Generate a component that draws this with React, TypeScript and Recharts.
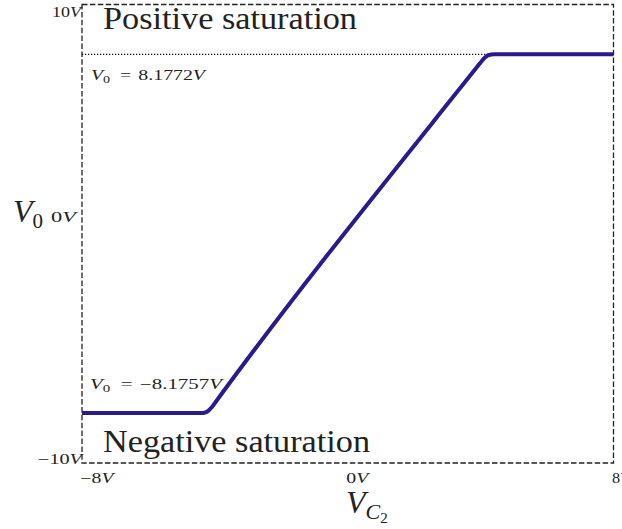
import { LineChart, Line, XAxis, YAxis, ReferenceArea, ReferenceLine } from 'recharts';

// transfer curve V0 vs VC2 (volts)
const VC2 = [-8, -4.4, -4.3, -4.2, -4.1, -3.95, 3.95, 4.05, 4.15, 4.25, 4.4, 8];
const V0 = [-8.1757, -8.1757, -8.15, -8.07, -7.92, -7.61, 7.71, 7.9, 8.06, 8.15, 8.1772, 8.1772];

const X_TICKS = [-8, 0, 8];
const X_TICK_LABELS = ['−8', '0', '8'];
const Y_TICKS = [10, 0, -10];
const Y_TICK_LABELS = ['10', '0', '−10'];

const V_POS_SAT = 8.1772;
const V_NEG_SAT = -8.1757;
const Y_LIMIT = 10.45;

const data = VC2.map((vc, i) => ({ vc2: vc, v0: V0[i] }));

const FONT = '"Liberation Serif", "DejaVu Serif", serif';
const INK = '#222';

// the math-style labels run wide, so each one gets a fixed rendered width
const X_TICK_WIDTH: Record<number, number> = { [-8]: 33, 0: 22, 8: 18 };

function XTick({ x, payload }: any) {
  const label = X_TICK_LABELS[X_TICKS.indexOf(payload.value)];
  return (
    <text
      x={x - 1.5}
      y={483}
      fontFamily={FONT}
      fontSize={14}
      fill={INK}
      textLength={X_TICK_WIDTH[payload.value]}
      lengthAdjust="spacingAndGlyphs"
    >
      {label}
      <tspan fontStyle="italic">V</tspan>
    </text>
  );
}

// per-tick nudges for the y labels
const Y_TICK_POS: Record<number, { right: number; dy: number; w: number }> = {
  10: { right: 81, dy: 2.5, w: 29 },
  0: { right: 76, dy: -12, w: 25 },
  [-10]: { right: 82, dy: 10.5, w: 44 },
};

function YTick({ y, payload }: any) {
  const label = Y_TICK_LABELS[Y_TICKS.indexOf(payload.value)];
  const p = Y_TICK_POS[payload.value];
  return (
    <text
      x={p.right - p.w}
      y={y + p.dy}
      fontFamily={FONT}
      fontSize={14}
      fill={INK}
      textLength={p.w}
      lengthAdjust="spacingAndGlyphs"
    >
      {label}
      <tspan fontStyle="italic">V</tspan>
    </text>
  );
}

function SatLabel({ x, y, value, width }: { x: number; y: number; value: string; width: number }) {
  return (
    <text x={x} y={y} fontFamily={FONT} fontSize={14} fill={INK} textLength={width} lengthAdjust="spacingAndGlyphs">
      <tspan fontStyle="italic">V</tspan>
      <tspan fontSize={10} dy={3}>0</tspan>
      <tspan dy={-3} dx={7}>=</tspan>
      <tspan dx={5}>{value}</tspan>
      <tspan fontStyle="italic">V</tspan>
    </text>
  );
}

export default function App() {
  return (
    <div style={{ position: 'absolute', left: 0, top: 0, width: 622, height: 529, background: '#fff' }}>
      <LineChart width={622} height={529} data={data} margin={{ top: 4.5, right: 8.5, left: 0, bottom: 0 }}>
        <XAxis
          dataKey="vc2"
          type="number"
          domain={[-8, 8]}
          ticks={X_TICKS}
          axisLine={false}
          tickLine={false}
          height={66}
          tick={<XTick />}
        />
        <YAxis
          type="number"
          domain={[-Y_LIMIT, Y_LIMIT]}
          ticks={Y_TICKS}
          axisLine={false}
          tickLine={false}
          width={82}
          tick={<YTick />}
        />
        <ReferenceArea
          x1={-8}
          x2={8}
          y1={-Y_LIMIT}
          y2={Y_LIMIT}
          fill="none"
          stroke={INK}
          strokeWidth={1.3}
          strokeDasharray="5.5 2.4"
        />
        <ReferenceLine
          segment={[{ x: -8, y: V_POS_SAT }, { x: 4.3, y: V_POS_SAT }]}
          stroke="#111"
          strokeWidth={1.3}
          strokeDasharray="1.3 1.7"
        />
        <Line
          dataKey="v0"
          type="monotone"
          stroke="#2a1b8c"
          strokeWidth={4}
          dot={false}
          isAnimationActive={false}
        />
        <text x={103} y={29} fontFamily={FONT} fontSize={32} fill={INK} textLength={254} lengthAdjust="spacingAndGlyphs">
          Positive saturation
        </text>
        <text x={103} y={452} fontFamily={FONT} fontSize={32} fill={INK} textLength={267} lengthAdjust="spacingAndGlyphs">
          Negative saturation
        </text>
        <SatLabel x={91} y={80} value={String(V_POS_SAT)} width={114} />
        <SatLabel x={90} y={389} value={'−' + String(-V_NEG_SAT)} width={132} />
        <text x={13} y={222} fontFamily={FONT} fill={INK}>
          <tspan fontStyle="italic" fontSize={32}>V</tspan>
          <tspan fontSize={21} dy={6}>0</tspan>
        </text>
        <text x={346} y={513} fontFamily={FONT} fill={INK}>
          <tspan fontStyle="italic" fontSize={32}>V</tspan>
          <tspan fontStyle="italic" fontSize={22} dy={6}>C</tspan>
          <tspan fontSize={15} dy={4}>2</tspan>
        </text>
      </LineChart>
    </div>
  );
}
